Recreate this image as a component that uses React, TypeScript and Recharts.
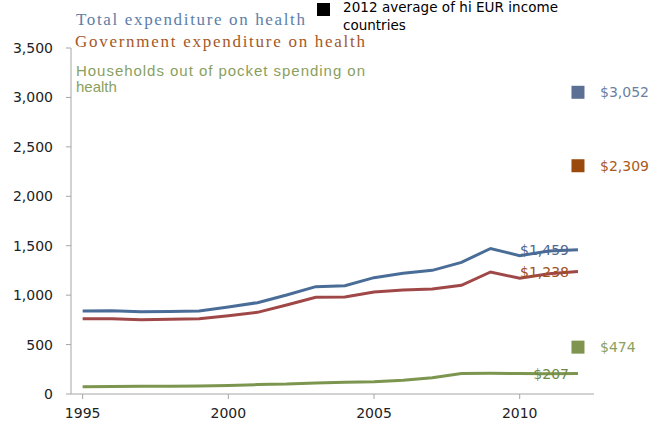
import React from 'react';
import { ComposedChart, Line, Scatter, XAxis, YAxis } from 'recharts';

const years = [1995, 1996, 1997, 1998, 1999, 2000, 2001, 2002, 2003, 2004, 2005, 2006, 2007, 2008, 2009, 2010, 2011, 2012];
const totalExpenditure = [840, 842, 833, 835, 840, 880, 924, 1001, 1086, 1096, 1177, 1221, 1251, 1332, 1472, 1399, 1447, 1459];
const governmentExpenditure = [762, 762, 752, 755, 762, 792, 826, 900, 978, 981, 1032, 1052, 1062, 1099, 1234, 1170, 1217, 1238];
const householdsSpending = [74, 76, 78, 78, 80, 85, 95, 100, 112, 118, 125, 140, 165, 208, 210, 207, 205, 207];

const benchmarkYear = 2012;
const benchmarkTotal = 3052;
const benchmarkGovernment = 2309;
const benchmarkHouseholds = 474;

const yTicks = [0, 500, 1000, 1500, 2000, 2500, 3000, 3500];
const xTicks = [1995, 2000, 2005, 2010];

const seriesLabels = {
  total: 'Total expenditure on health',
  government: 'Government expenditure on health',
  households1: 'Households out of pocket spending on',
  households2: 'health',
  avg1: '2012 average of hi EUR income',
  avg2: 'countries',
};

const data = years.map((year, i) => ({
  year,
  total: totalExpenditure[i],
  government: governmentExpenditure[i],
  households: householdsSpending[i],
}));

const benchTotalData = [{ year: benchmarkYear, value: benchmarkTotal }];
const benchGovData = [{ year: benchmarkYear, value: benchmarkGovernment }];
const benchHhData = [{ year: benchmarkYear, value: benchmarkHouseholds }];

const FONT = '"DejaVu Sans", Verdana, sans-serif';
const fmtNum = (v: number) => v.toLocaleString('en-US');
const fmtMoney = (v: number) => '$' + v.toLocaleString('en-US');

const COLORS = {
  totalLine: '#4A6D98',
  govLine: '#A04848',
  hhLine: '#7C9650',
  totalSq: '#5B7094',
  govSq: '#9A4A0C',
  hhSq: '#7F944F',
  totalText: '#6A7FA3',
  govText: '#A85A20',
  hhText: '#8AA060',
};

const lastIndex = years.length - 1;

const endLabel = (color: string) => (props: any) => {
  const { x, y, index, value } = props;
  if (index !== lastIndex) return <g key={`l-${index}`} />;
  return (
    <text
      key={`l-${index}`}
      x={x - 9}
      y={y}
      textAnchor="end"
      dominantBaseline="central"
      fontFamily={FONT}
      fontSize={14}
      fill={color}
    >
      {fmtMoney(value)}
    </text>
  );
};

const squareShape = (fill: string, textColor: string, value: number) => (props: any) => {
  const { cx, cy } = props;
  const s = 13;
  return (
    <g>
      <rect x={cx - s / 2} y={cy - s / 2} width={s} height={s} fill={fill} />
      <text
        x={cx + 22}
        y={cy}
        dominantBaseline="central"
        fontFamily={FONT}
        fontSize={14}
        fill={textColor}
      >
        {fmtMoney(value)}
      </text>
    </g>
  );
};

export default function App() {
  return (
    <div style={{ position: 'absolute', left: 0, top: 0, width: 658, height: 426, background: '#fff' }}>
      <ComposedChart
        width={658}
        height={426}
        data={data}
        margin={{ top: 48, right: 64, bottom: 0, left: 0 }}
      >
        <XAxis
          dataKey="year"
          type="number"
          domain={[1994.6, 2012.55]}
          ticks={xTicks}
          height={32}
          axisLine={{ stroke: '#A6A6A6' }}
          tickLine={{ stroke: '#A6A6A6' }}
          tickSize={5}
          tickMargin={9}
          tick={{ fill: '#222', fontSize: 14, fontFamily: FONT }}
        />
        <YAxis
          type="number"
          domain={[0, 3500]}
          ticks={yTicks}
          width={71}
          axisLine={{ stroke: '#A6A6A6' }}
          tickLine={{ stroke: '#A6A6A6' }}
          tickSize={5}
          tickMargin={13}
          tickFormatter={fmtNum}
          tick={{ fill: '#222', fontSize: 14, fontFamily: FONT }}
        />
        <Line
          dataKey="total"
          stroke={COLORS.totalLine}
          strokeWidth={3}
          dot={false}
          isAnimationActive={false}
          label={endLabel('#4F6891')}
        />
        <Line
          dataKey="government"
          stroke={COLORS.govLine}
          strokeWidth={3}
          dot={false}
          isAnimationActive={false}
          label={endLabel('#A0501A')}
        />
        <Line
          dataKey="households"
          stroke={COLORS.hhLine}
          strokeWidth={3}
          dot={false}
          isAnimationActive={false}
          label={endLabel('#6F8A48')}
        />
        <Scatter data={benchTotalData} dataKey="value" isAnimationActive={false} shape={squareShape(COLORS.totalSq, COLORS.totalText, benchmarkTotal)} />
        <Scatter data={benchGovData} dataKey="value" isAnimationActive={false} shape={squareShape(COLORS.govSq, COLORS.govText, benchmarkGovernment)} />
        <Scatter data={benchHhData} dataKey="value" isAnimationActive={false} shape={squareShape(COLORS.hhSq, COLORS.hhText, benchmarkHouseholds)} />
      </ComposedChart>
      <svg
        width={658}
        height={426}
        style={{ position: 'absolute', left: 0, top: 0, pointerEvents: 'none' }}
      >
        <text x={76} y={25} fontFamily='"Liberation Serif", serif' fontSize={17} fill="#5E7EA8" textLength={229} lengthAdjust="spacing">
          {seriesLabels.total}
        </text>
        <text x={75} y={47} fontFamily='"Liberation Serif", serif' fontSize={17} fill="#A3582A" textLength={290} lengthAdjust="spacing">
          {seriesLabels.government}
        </text>
        <text x={76} y={76} fontFamily='"Liberation Sans", Arial, sans-serif' fontSize={15} fill="#8AA060" textLength={289} lengthAdjust="spacing">
          {seriesLabels.households1}
        </text>
        <text x={76} y={92} fontFamily='"Liberation Sans", Arial, sans-serif' fontSize={15} fill="#8AA060">
          {seriesLabels.households2}
        </text>
        <rect x={317} y={3} width={13} height={13} fill="#000" />
        <text x={343} y={12} fontFamily={FONT} fontSize={13.5} fill="#000" textLength={215} lengthAdjust="spacing">
          {seriesLabels.avg1}
        </text>
        <text x={343} y={30} fontFamily={FONT} fontSize={13.5} fill="#000">
          {seriesLabels.avg2}
        </text>
      </svg>
    </div>
  );
}
